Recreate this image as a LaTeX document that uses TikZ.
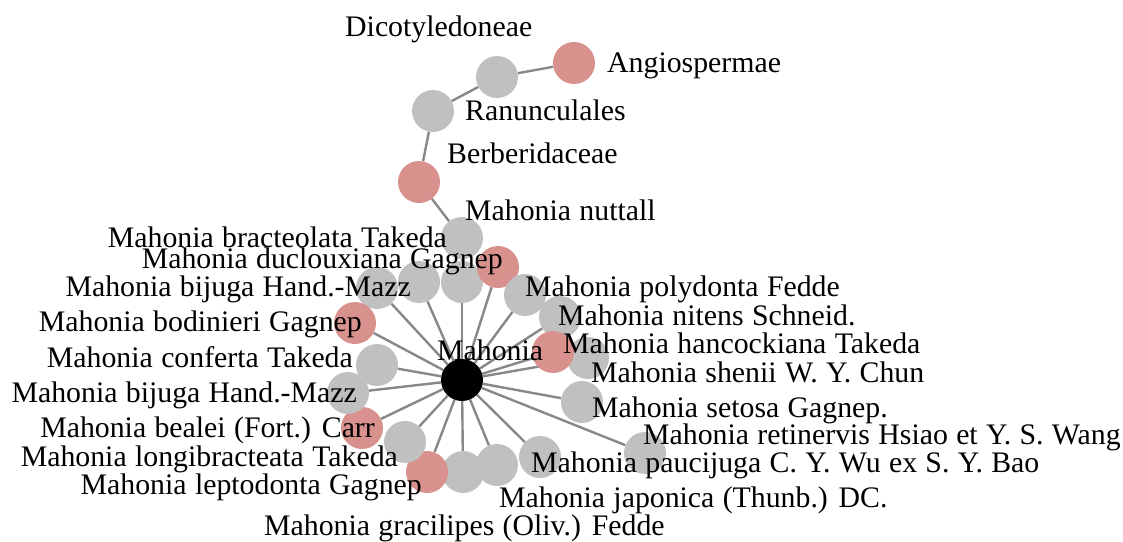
\documentclass[tikz,border=0pt]{standalone}
\usepackage{fontspec}
\setmainfont{Liberation Serif}
\usepackage{xcolor}
\usetikzlibrary{backgrounds}

\definecolor{taxgray}{HTML}{C0C0C0}
\definecolor{taxred}{HTML}{D9918D}
\definecolor{edgegray}{HTML}{888888}
\newcommand{\lblfont}{\fontsize{29.8}{34}\selectfont\setlength{\spaceskip}{0.28em}}

\begin{document}
\begin{tikzpicture}[
            x=1pt, y=-1pt,
            taxon/.style={circle, fill=taxgray, minimum size=42pt, inner sep=0pt},
            redtaxon/.style={taxon, fill=taxred},
            hub/.style={taxon, fill=black},
            lbl/.style={inner sep=0pt, font=\lblfont},
            link/.style={draw=edgegray, line width=2.4pt}
        ]
        \useasboundingbox (0,0) rectangle (1123,541);

        % lineage
        \node[redtaxon] (angio) at (574,63) {};
        \node[taxon] (dicot) at (497,77) {};
        \node[taxon] (ranunc) at (433,111) {};
        \node[redtaxon] (berber) at (419,182) {};
        \node[taxon] (nuttall) at (462,238) {};
        \node[hub] (mahonia) at (462,380) {};

        % species
        \node[taxon] (extra) at (377,288) {};
        \node[taxon] (bijugaA) at (419,282) {};
        \node[taxon] (bracteolata) at (462,282) {};
        \node[redtaxon] (duclouxiana) at (498,267) {};
        \node[taxon] (polydonta) at (525,295) {};
        \node[taxon] (nitens) at (560,317) {};
        \node[taxon] (shenii) at (588,358) {};
        \node[redtaxon] (hancockiana) at (553,352) {};
        \node[taxon] (setosa) at (582,402) {};
        \node[taxon] (retinervis) at (645,453) {};
        \node[taxon] (paucijuga) at (540,457) {};
        \node[taxon] (japonica) at (497,465) {};
        \node[taxon] (gracilipes) at (463,472) {};
        \node[redtaxon] (leptodonta) at (427,472) {};
        \node[taxon] (longibracteata) at (405,442) {};
        \node[redtaxon] (bealei) at (362,428) {};
        \node[taxon] (bijugaB) at (348,393) {};
        \node[taxon] (conferta) at (377,365) {};
        \node[redtaxon] (bodinieri) at (355,323) {};

        % labels
        \node[lbl, anchor=base west] (angio-l) at (607,72) {Angiospermae};
        \node[lbl, anchor=base west] (dicot-l) at (345,36) {Dicotyledoneae};
        \node[lbl, anchor=base west] (ranunc-l) at (465,120) {Ranunculales};
        \node[lbl, anchor=base west] (berber-l) at (447,163) {Berberidaceae};
        \node[lbl, anchor=base west] (nuttall-l) at (465,220) {Mahonia nuttall};
        \node[lbl, anchor=base west] (mahonia-l) at (437,360) {Mahonia};
        \node[lbl, anchor=base east] (bracteolata-l) at (447,247) {Mahonia bracteolata Takeda};
        \node[lbl, anchor=base east] (duclouxiana-l) at (503,268) {Mahonia duclouxiana Gagnep};
        \node[lbl, anchor=base east] (bijugaA-l) at (411,296) {Mahonia bijuga Hand.-Mazz};
        \node[lbl, anchor=base east] (bodinieri-l) at (362,331) {Mahonia bodinieri Gagnep};
        \node[lbl, anchor=base east] (conferta-l) at (353,367) {Mahonia conferta Takeda};
        \node[lbl, anchor=base east] (bijugaB-l) at (357,402) {Mahonia bijuga Hand.-Mazz};
        \node[lbl, anchor=base east] (bealei-l) at (375,437) {Mahonia bealei (Fort.) Carr};
        \node[lbl, anchor=base east] (longibracteata-l) at (398,466) {Mahonia longibracteata Takeda};
        \node[lbl, anchor=base east] (leptodonta-l) at (422,494) {Mahonia leptodonta Gagnep};
        \node[lbl, anchor=base west] (gracilipes-l) at (264,535) {Mahonia gracilipes (Oliv.) Fedde};
        \node[lbl, anchor=base west] (japonica-l) at (499,507) {Mahonia japonica (Thunb.) DC.};
        \node[lbl, anchor=base west] (paucijuga-l) at (531,472) {Mahonia paucijuga C. Y. Wu ex S. Y. Bao};
        \node[lbl, anchor=base west] (retinervis-l) at (643,444) {Mahonia retinervis Hsiao et Y. S. Wang};
        \node[lbl, anchor=base west] (setosa-l) at (592,417) {Mahonia setosa Gagnep.};
        \node[lbl, anchor=base west] (shenii-l) at (591,382) {Mahonia shenii W. Y. Chun};
        \node[lbl, anchor=base west] (hancockiana-l) at (563,353) {Mahonia hancockiana Takeda};
        \node[lbl, anchor=base west] (nitens-l) at (558,325) {Mahonia nitens Schneid.};
        \node[lbl, anchor=base west] (polydonta-l) at (525,296) {Mahonia polydonta Fedde};

        \begin{scope}[on background layer]
            \draw[link] (angio) -- (dicot) -- (ranunc) -- (berber) -- (nuttall);
            \draw[link] (nuttall.center) -- (mahonia);
            \foreach \sp in {extra, bijugaA, bracteolata, duclouxiana, polydonta, nitens,
                    hancockiana, shenii, setosa, retinervis, paucijuga, japonica, gracilipes,
                    leptodonta, longibracteata, bealei, bijugaB, conferta, bodinieri}
                \draw[link] (mahonia) -- (\sp);
        \end{scope}

    \end{tikzpicture}
\end{document}
